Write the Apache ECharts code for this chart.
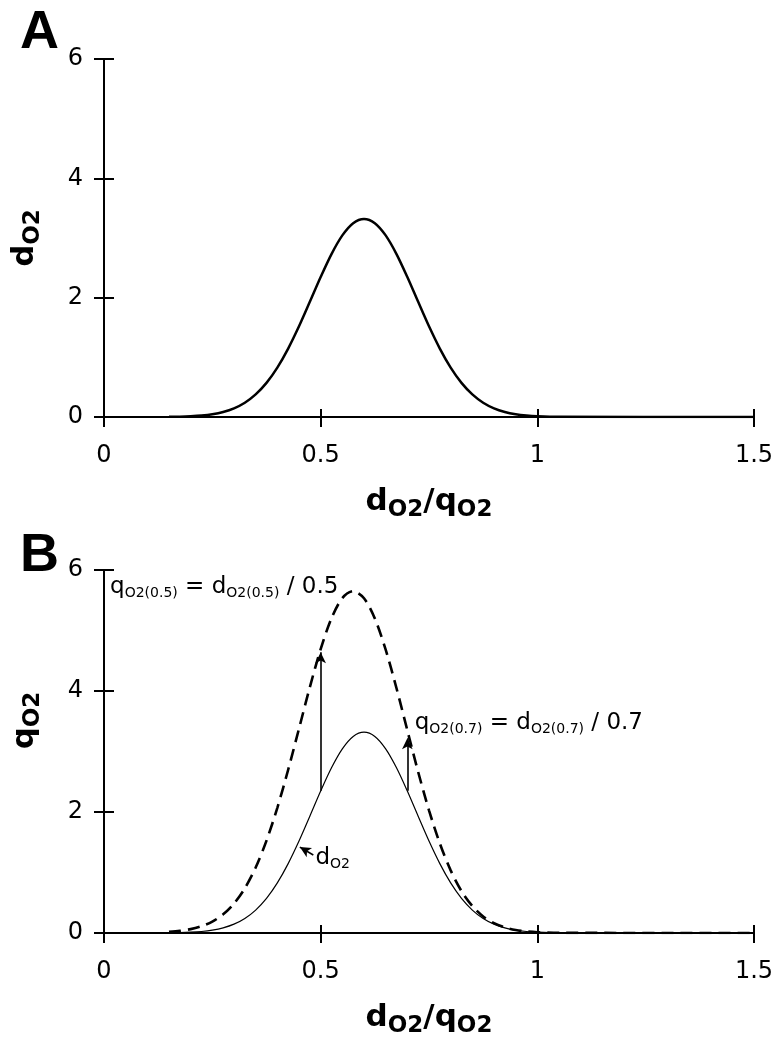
<!DOCTYPE html>
<html>
<head>
<meta charset="utf-8">
<script src="https://cdn.jsdelivr.net/npm/echarts@6/dist/echarts.min.js"></script>
<style>
  html, body { margin: 0; padding: 0; background: #fff; }
  #chart { width: 774px; height: 1048px; }
</style>
</head>
<body>
<div id="chart"></div>
<script>
// Ratio d_O2/q_O2 sampled along the x axis
const ratio = [0.15, 0.175, 0.2, 0.225, 0.25, 0.275, 0.3, 0.325, 0.35, 0.375,
               0.4, 0.425, 0.45, 0.475, 0.5, 0.525, 0.55, 0.575, 0.6, 0.625,
               0.65, 0.675, 0.7, 0.725, 0.75, 0.775, 0.8, 0.825, 0.85, 0.875,
               0.9, 0.925, 0.95, 0.975, 1.0, 1.05, 1.5];
// Distribution d_O2 (panel A, and the solid line in panel B)
const dO2 = [0.003, 0.006, 0.013, 0.025, 0.047, 0.085, 0.146, 0.240, 0.379, 0.572,
             0.828, 1.147, 1.520, 1.930, 2.346, 2.731, 3.044, 3.249, 3.320, 3.249,
             3.044, 2.731, 2.346, 1.930, 1.520, 1.147, 0.828, 0.572, 0.379, 0.240,
             0.146, 0.085, 0.047, 0.025, 0.013, 0.003, 0];
// Derived q_O2 (dashed line in panel B)
const qO2 = [0.019, 0.036, 0.064, 0.112, 0.189, 0.308, 0.486, 0.739, 1.083, 1.526,
             2.070, 2.698, 3.378, 4.063, 4.692, 5.202, 5.535, 5.650, 5.533, 5.198,
             4.683, 4.046, 3.351, 2.662, 2.027, 1.480, 1.035, 0.693, 0.446, 0.274,
             0.162, 0.092, 0.050, 0.026, 0.013, 0.003, 0];

// Axis ranges and ticks
const xMin = 0, xMax = 1.5, xStep = 0.5;
const yMin = 0, yMax = 6, yStep = 2;

// Vertical arrows d -> q at two ratios
const arrowX    = [0.5, 0.7];
const arrowFrom = [2.35, 2.35];
const arrowTo   = [4.64, 3.22];

// Pointer arrow to the d_O2 curve
const pointerFrom = [0.483, 1.29];
const pointerTo   = [0.452, 1.42];

// Annotation texts and anchor points (left edge, vertical centre)
const noteText = [
  '{m|q}{s|O2(0.5)}{m| = d}{s|O2(0.5)}{m| / 0.5}',
  '{m|q}{s|O2(0.7)}{m| = d}{s|O2(0.7)}{m| / 0.7}',
  '{m|d}{s|O2}'
];
const noteX = [0.014, 0.717, 0.488];
const noteY = [5.72, 3.47, 1.24];

const FONT = 'DejaVu Sans';
const pts = (ys) => ratio.map((x, i) => [x, ys[i]]);

const titleRich = {
  m: { fontSize: 31, fontWeight: 'bold', fontFamily: FONT, lineHeight: 42, color: '#000' },
  s: { fontSize: 23, fontWeight: 'bold', fontFamily: FONT, lineHeight: 42, padding: [16, 0, 0, 0], color: '#000' }
};
const noteRich = {
  m: { fontSize: 23, fontFamily: FONT, lineHeight: 30, color: '#000' },
  s: { fontSize: 14, fontFamily: FONT, lineHeight: 30, padding: [12, 0, 0, 0], color: '#000' }
};
const tickColor = { color: '#000', width: 2 };
const clearLine = { show: true, lineStyle: { color: 'rgba(0,0,0,0)' } };

function xAxes(gridIndex) {
  return [{
    type: 'value', gridIndex, position: 'bottom', min: xMin, max: xMax, interval: xStep,
    axisLine: { onZero: false, lineStyle: { color: '#000', width: 2 } },
    axisTick: { length: 10, lineStyle: tickColor },
    axisLabel: { color: '#000', fontSize: 24, fontFamily: FONT, margin: 27 },
    splitLine: { show: false },
    name: '{m|d}{s|O2}{m|/q}{s|O2}', nameLocation: 'middle', nameGap: 64,
    nameTextStyle: { rich: titleRich }
  }, {
    type: 'value', gridIndex, position: 'bottom', min: xMin, max: xMax, interval: xStep,
    axisLine: { onZero: false, ...clearLine },
    axisTick: { inside: true, length: 8, lineStyle: tickColor },
    axisLabel: { show: false }, splitLine: { show: false }
  }];
}
function yAxes(gridIndex, letter, namePad) {
  return [{
    type: 'value', gridIndex, position: 'left', min: yMin, max: yMax, interval: yStep,
    axisLine: { onZero: false, lineStyle: { color: '#000', width: 2 } },
    axisTick: { length: 10, lineStyle: tickColor },
    axisLabel: { color: '#000', fontSize: 24, fontFamily: FONT, margin: 21 },
    splitLine: { show: false },
    name: '{m|' + letter + '}{s|O2}', nameLocation: 'middle', nameGap: 58,
    nameTextStyle: { rich: titleRich, padding: namePad }
  }, {
    type: 'value', gridIndex, position: 'left', min: yMin, max: yMax, interval: yStep,
    axisLine: { onZero: false, ...clearLine },
    axisTick: { inside: true, length: 10, lineStyle: tickColor },
    axisLabel: { show: false }, splitLine: { show: false }
  }];
}

const arrowLines = arrowX.map((x, i) => [
  { coord: [x, arrowFrom[i]] }, { coord: [x, arrowTo[i]] }
]);
arrowLines.push([{ coord: pointerFrom }, { coord: pointerTo }]);

const chart = echarts.init(document.getElementById('chart'), null, { renderer: 'canvas' });
chart.setOption({
  animation: false,
  backgroundColor: '#fff',
  grid: [
    { left: 104, top: 59, width: 650, height: 358, containLabel: false, outerBoundsMode: 'none' },
    { left: 104, top: 570, width: 650, height: 363, containLabel: false, outerBoundsMode: 'none' }
  ],
  xAxis: [...xAxes(0), ...xAxes(1)],
  yAxis: [...yAxes(0, 'd', [0, 0, 0, 0]), ...yAxes(1, 'q', [0, 0, 0, 62])],
  graphic: [
    { type: 'text', left: 20, top: 6, style: { text: 'A', font: 'bold 54px "Liberation Sans"', fill: '#000' } },
    { type: 'text', left: 20, top: 529, style: { text: 'B', font: 'bold 54px "Liberation Sans"', fill: '#000' } }
  ],
  series: [
    {
      name: 'dO2 A', type: 'line', xAxisIndex: 0, yAxisIndex: 0,
      data: pts(dO2), showSymbol: false, smooth: 0.3,
      lineStyle: { color: '#000', width: 2.5 }
    },
    {
      name: 'dO2 B', type: 'line', xAxisIndex: 2, yAxisIndex: 2,
      data: pts(dO2), showSymbol: false, smooth: 0.3,
      lineStyle: { color: '#000', width: 1.2 },
      markLine: {
        silent: true, symbol: ['none', 'arrow'], symbolSize: [8, 11],
        label: { show: false },
        lineStyle: { color: '#000', width: 1.6, type: 'solid' },
        data: arrowLines
      }
    },
    {
      name: 'qO2 B', type: 'line', xAxisIndex: 2, yAxisIndex: 2,
      data: pts(qO2), showSymbol: false, smooth: 0.3,
      lineStyle: { color: '#000', width: 2.6, type: [12, 7] }
    },
    {
      name: 'notes', type: 'scatter', xAxisIndex: 2, yAxisIndex: 2,
      symbolSize: 0, silent: true,
      itemStyle: { opacity: 1, color: '#000' },
      data: noteText.map((t, i) => ({
        value: [noteX[i], noteY[i]],
        label: { show: true, position: 'right', distance: 0, color: '#000',
                 formatter: t, rich: noteRich }
      }))
    }
  ]
});
</script>
</body>
</html>
